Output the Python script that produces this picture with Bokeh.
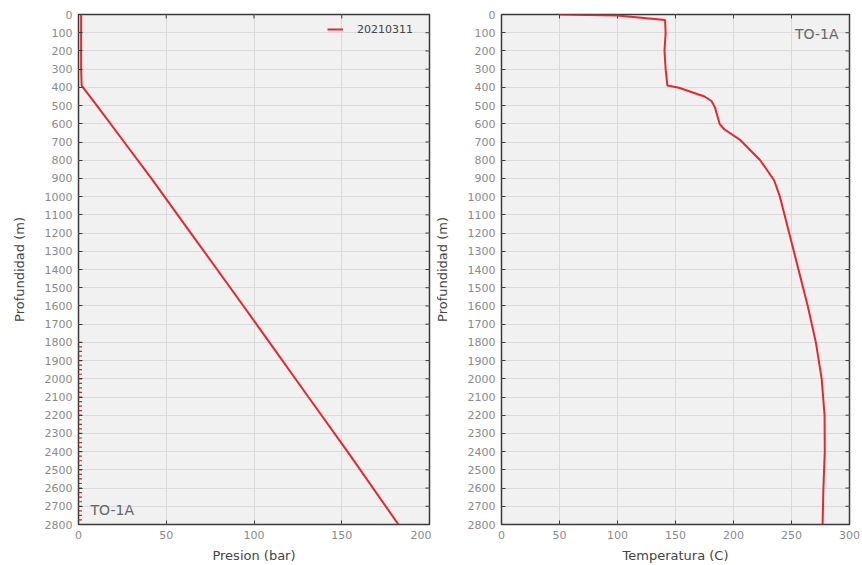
import math
from bokeh.plotting import figure
from bokeh.models import Range1d, FixedTicker, Label, Legend, LegendItem
from bokeh.layouts import row
from bokeh.embed import file_html
from bokeh.resources import INLINE

# ---- data ----
depth_ticks = [0, 100, 200, 300, 400, 500, 600, 700, 800, 900, 1000, 1100, 1200, 1300,
               1400, 1500, 1600, 1700, 1800, 1900, 2000, 2100, 2200, 2300, 2400, 2500,
               2600, 2700, 2800]
pres_ticks = [0, 50, 100, 150, 200]
temp_ticks = [0, 50, 100, 150, 200, 250, 300]

pres_depth = [0, 100, 200, 300, 390, 500, 700, 900, 1000, 1200, 1500, 1800, 2100, 2400, 2800]
pres_bar = [1.5, 1.5, 1.5, 1.5, 1.8, 10.5, 26.0, 41.5, 49.0, 64.0, 86.5, 108.8, 131.0, 153.3, 182.3]

marker_depth = [1800, 1825, 1850, 1875, 1900, 1925, 1950, 1975, 2000, 2025, 2050, 2075,
                2100, 2125, 2150, 2175, 2200, 2225, 2250, 2275, 2300, 2325, 2350, 2375,
                2400, 2425, 2450, 2475, 2500, 2525, 2550, 2575, 2600, 2625, 2650, 2675,
                2700, 2725, 2750, 2775, 2800]
marker_pres = [0] * len(marker_depth)

temp_depth = [0, 5, 30, 100, 200, 250, 300, 390, 402, 450, 475, 510, 600, 630, 690, 800,
              910, 1000, 1200, 1400, 1600, 1800, 2000, 2200, 2400, 2600, 2800]
temp_c = [50, 100, 141, 141.5, 140.5, 141, 141.5, 143, 153, 175, 181, 184, 188, 192, 206,
          223, 235, 240, 248, 256, 264, 271, 276, 278.5, 278.7, 277.5, 276.8]

series_label = "20210311"
well_name = "TO-1A"

LINE_COLOR = "#e4282e"
FRAME = "#3a3a3a"
FONT = "DejaVu Sans"


def make_fig(xmax, xticks, xlabel, left_border, right_border):
    p = figure(width=431, height=565, output_backend="svg", toolbar_location=None,
               x_range=Range1d(0, xmax), y_range=Range1d(2800, 0),
               min_border_left=left_border, min_border_right=right_border,
               min_border_top=14, min_border_bottom=41)
    p.background_fill_color = "#f1f1f1"
    p.border_fill_color = "white"
    p.outline_line_color = FRAME
    p.outline_line_width = 1.5
    p.grid.grid_line_color = "#dadada"
    p.grid.grid_line_width = 1
    p.xaxis.ticker = FixedTicker(ticks=xticks)
    p.yaxis.ticker = FixedTicker(ticks=depth_ticks)
    p.xgrid.ticker = FixedTicker(ticks=xticks)
    p.ygrid.ticker = FixedTicker(ticks=depth_ticks)
    for ax in [p.xaxis[0], p.yaxis[0]]:
        ax.axis_line_color = None
        ax.major_tick_in = 4
        ax.major_tick_out = 0
        ax.major_tick_line_color = FRAME
        ax.minor_tick_line_color = None
        ax.major_label_text_font = FONT
        ax.major_label_text_font_size = "11px"
        ax.major_label_text_color = "#8a8a8a"
        ax.major_label_standoff = 6
        ax.axis_label_text_font = FONT
        ax.axis_label_text_font_size = "13px"
        ax.axis_label_text_font_style = "normal"
        ax.axis_label_text_color = "#444444"
    p.xaxis.axis_label = xlabel
    p.xaxis.axis_label_standoff = 6
    p.yaxis.axis_label = "Profundidad (m)"
    p.yaxis.axis_label_standoff = 15
    # mirrored inward ticks on the right and top edges (clipped to the frame)
    p.scatter([xmax] * len(depth_ticks), depth_ticks, marker="dash", size=8,
              line_color=FRAME, line_width=1)
    p.scatter(xticks, [0] * len(xticks), marker="dash", angle=math.pi / 2, size=8,
              line_color=FRAME, line_width=1)
    return p


p1 = make_fig(200, pres_ticks, "Presion (bar)", 78, 2)
r1 = p1.line(pres_bar, pres_depth, line_color=LINE_COLOR, line_width=2)
p1.scatter(marker_pres, marker_depth, marker="dash", size=7, line_color="#b03030", line_width=1.2)
legend = Legend(items=[LegendItem(label=series_label, renderers=[r1])],
                location=(249, 488), margin=0, padding=0, glyph_width=16, glyph_height=14,
                label_height=14, label_standoff=14, background_fill_alpha=0,
                border_line_color=None, label_text_font=FONT, label_text_font_size="11px",
                label_text_color="#444444")
p1.add_layout(legend)
p1.add_layout(Label(x=12, y=15, x_units="screen", y_units="screen", text=well_name,
                    text_font=FONT, text_font_size="14px", text_color="#666666",
                    text_baseline="middle"))

p2 = make_fig(300, temp_ticks, "Temperatura (C)", 67, 13)
p2.line(temp_c, temp_depth, line_color=LINE_COLOR, line_width=2)
p2.add_layout(Label(x=337, y=491, x_units="screen", y_units="screen", text=well_name,
                    text_font=FONT, text_font_size="14px", text_color="#666666",
                    text_baseline="middle", text_align="right"))

layout = row(p1, p2)
open("out.html", "w").write(file_html(layout, INLINE))
